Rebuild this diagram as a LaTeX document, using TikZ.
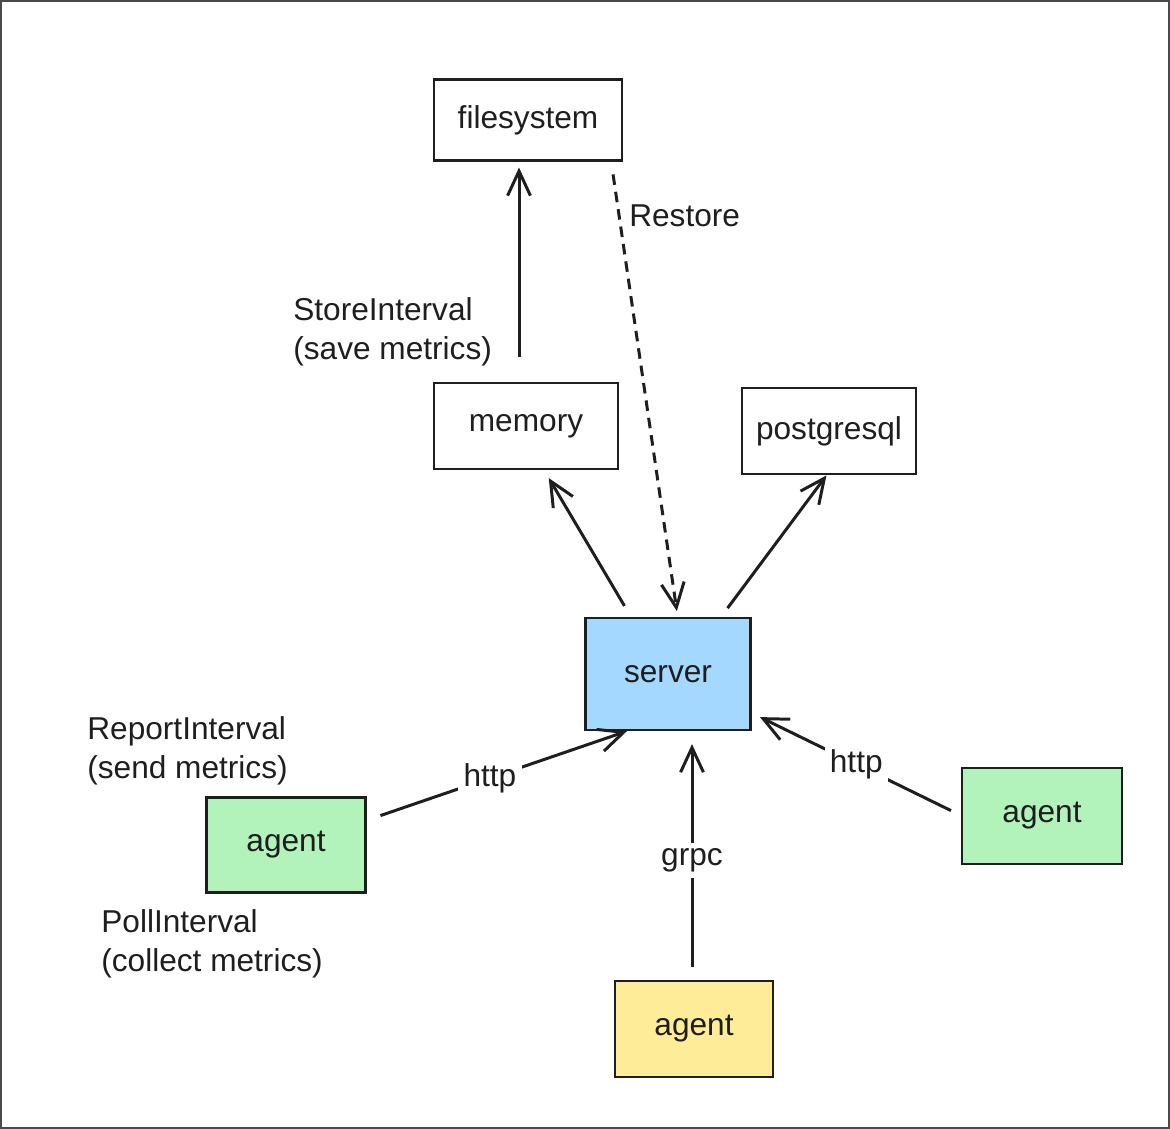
\documentclass[tikz,border=0pt]{standalone}
\usepackage{fontspec}
\setmainfont{Liberation Sans}
\usetikzlibrary{arrows.meta}
\definecolor{ink}{HTML}{1E1E1E}
\definecolor{serverblue}{HTML}{A5D8FF}
\definecolor{agentgreen}{HTML}{B2F2BB}
\definecolor{agentyellow}{HTML}{FFEC99}
\definecolor{frame}{HTML}{4A4A4A}

\begin{document}
\begin{tikzpicture}[x=0.02cm,y=-0.02cm,
    font=\fontsize{18}{22}\selectfont, text=ink,
    box/.style={draw=ink,line width=1.4pt,inner sep=0pt,outer sep=0pt},
    link/.style={draw=ink,line width=1.7pt,-{Straight Barb[length=14pt,width=13pt,line width=1.7pt]}},
    tag/.style={fill=white,inner sep=3pt},
    note/.style={align=left,inner sep=0pt,anchor=west}]
                \useasboundingbox (0,0) rectangle (1170,1129);
                \draw[frame,line width=1.5pt] (1,1) rectangle (1169,1128);
                % storage side
                \node[box,minimum width=3.76cm,minimum height=1.62cm] (filesystem) at (528,120) {filesystem};
                \node[box,minimum width=3.68cm,minimum height=1.72cm] (memory) at (526,426) {memory};
                \node[box,minimum width=3.48cm,minimum height=1.72cm] (postgresql) at (829,431) {postgresql};
                \node[box,fill=serverblue,minimum width=3.3cm,minimum height=2.24cm] (server) at (668,674) {server};
                % agents
                \node[box,fill=agentgreen,minimum width=3.18cm,minimum height=1.9cm] (agentL) at (286,845) {agent};
                \node[box,fill=agentgreen,minimum width=3.2cm,minimum height=1.92cm] (agentR) at (1042,816) {agent};
                \node[box,fill=agentyellow,minimum width=3.16cm,minimum height=1.92cm] (agentB) at (694,1029) {agent};
                \draw[link,shorten <=15pt,shorten >=4pt] ([xshift=-0.14cm]memory.north) -- ([xshift=-0.14cm]memory.north |- filesystem.south);
                \draw[link,dashed,dash pattern=on 6pt off 4pt,shorten <=8pt,shorten >=4pt] (filesystem.-26) -- node[pos=0.12,right=5pt,inner sep=0pt] {Restore} (server.80);
                \draw[link,shorten <=8pt,shorten >=6pt] (server.123) -- (memory.-68);
                \draw[link,shorten <=7pt,shorten >=1pt] (server.47) -- (postgresql.-92);
                \draw[link,shorten <=9pt,shorten >=2pt] (agentL.17) -- node[tag,pos=0.47] {http} (server.236);
                \draw[link,shorten <=7pt,shorten >=6pt] (agentR.west) -- node[tag,pos=0.5] {http} (server.-25);
                \draw[link,shorten <=8pt,shorten >=8pt] ([xshift=-0.04cm]agentB.north) -- node[tag,pos=0.48] {grpc} ([xshift=-0.04cm]agentB.north |- server.south);
                \node[note] (storenote) at (293,332) {StoreInterval\\(save metrics)};
                \node[note] (reportnote) at (87,751) {ReportInterval\\(send metrics)};
                \node[note] (pollnote) at (101,944) {PollInterval\\(collect metrics)};
            \end{tikzpicture}
\end{document}
